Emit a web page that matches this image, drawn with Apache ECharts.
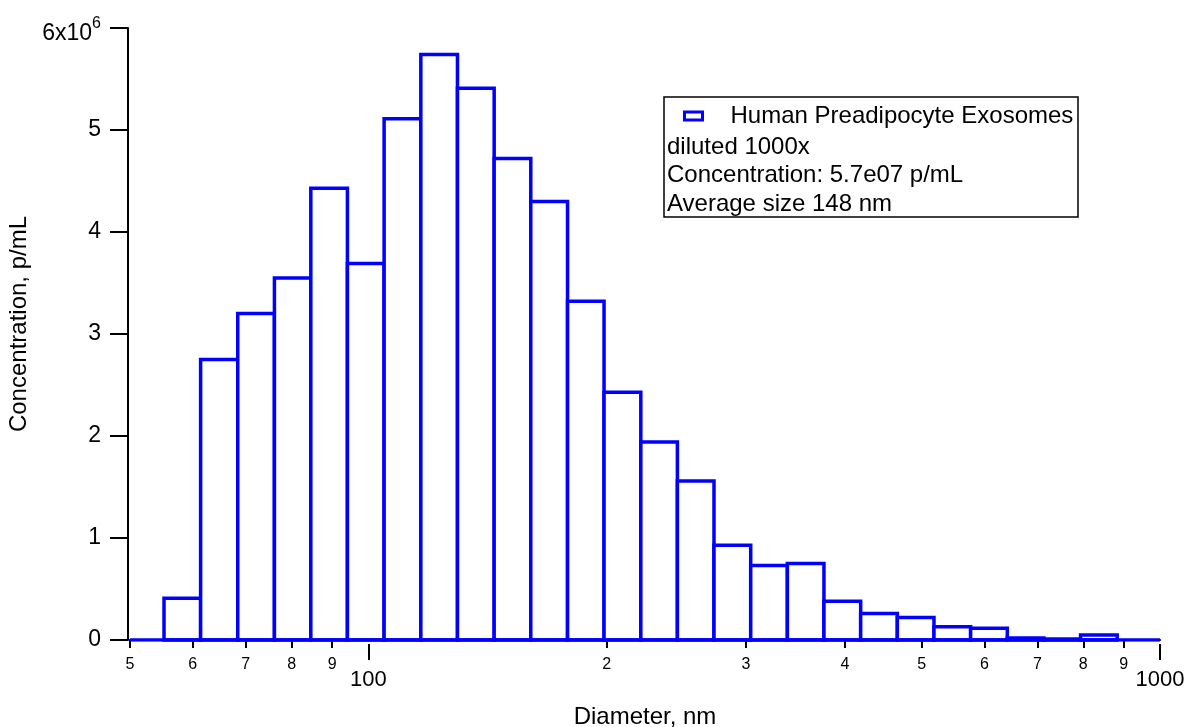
<!DOCTYPE html>
<html>
<head>
<meta charset="utf-8">
<title>Human Preadipocyte Exosomes</title>
<script src="https://cdn.jsdelivr.net/npm/echarts@6/dist/echarts.min.js"></script>
<style>
html, body { margin: 0; padding: 0; background: #fff; }
#chart { width: 1191px; height: 727px; }
</style>
</head>
<body>
<div id="chart"></div>
<script>
// bin edges, nm (log spaced)
const binEdges = [55.2, 61.4, 68.4, 76.1, 84.6, 94.1, 104.7, 116.5, 129.6, 144.2, 160.4, 178.5, 198.5,
  220.9, 245.7, 273.3, 304.1, 338.3, 376.3, 418.7, 465.8, 518.2, 576.5, 641.4, 713.5, 793.7, 883.0]
// concentration per bin, p/mL
const concentration = [410000, 2750000, 3200000, 3550000, 4430000, 3690000, 5110000, 5740000, 5410000,
  4720000, 4300000, 3320000, 2430000, 1940000, 1560000, 930000, 730000, 750000, 380000, 260000,
  220000, 130000, 115000, 20000, 10000, 50000]

const minorTicks = [50, 60, 70, 80, 90, 200, 300, 400, 500, 600, 700, 800, 900]
const minorTickLabels = ['5', '6', '7', '8', '9', '2', '3', '4', '5', '6', '7', '8', '9']
const majorTicks = [100, 1000]
const majorTickLabels = ['100', '1000']

const seriesName = 'Human Preadipocyte Exosomes'
const noteLines = ['diluted 1000x', 'Concentration: 5.7e07 p/mL', 'Average size 148 nm']

const font = '"Liberation Sans", Arial, sans-serif'
const blue = '#0000ff'

function lookupLabel(values, labels, v) {
  const i = values.findIndex(t => Math.abs(t - v) / t < 1e-6)
  return i < 0 ? '' : labels[i]
}

function renderBin(params, api) {
  const topLeft = api.coord([api.value(0), api.value(2)])
  const bottomRight = api.coord([api.value(1), 0])
  return {
    type: 'rect',
    shape: {
      x: topLeft[0],
      y: topLeft[1],
      width: bottomRight[0] - topLeft[0],
      height: bottomRight[1] - topLeft[1],
    },
    style: { fill: '#fff', stroke: blue, lineWidth: 3.5, lineJoin: 'miter' },
  }
}

const chart = echarts.init(document.getElementById('chart'))

const xBase = {
  type: 'log',
  logBase: 10,
  min: 50,
  max: 1000,
  position: 'bottom',
  offset: 4,
  splitLine: { show: false },
  minorTick: { show: false },
}

chart.setOption({
  animation: false,
  textStyle: { fontFamily: font, color: '#000' },
  grid: { left: 130, right: 31, top: 28, bottom: 87, containLabel: false, outerBoundsMode: 'none' },
  legend: {
    left: 683,
    top: 104,
    padding: 0,
    itemWidth: 18,
    itemHeight: 8,
    data: [{
      name: seriesName,
      icon: 'rect',
      itemStyle: { color: '#fff', borderColor: blue, borderWidth: 3 },
    }],
    textStyle: { fontSize: 24, color: '#000', fontFamily: font, padding: [0, 0, 0, 23] },
  },
  xAxis: [
    Object.assign({}, xBase, {
      name: 'Diameter, nm',
      nameLocation: 'middle',
      nameGap: 61,
      nameTextStyle: { fontSize: 24, color: '#000', fontFamily: font },
      axisLine: { show: true, lineStyle: { color: '#000', width: 2 } },
      axisTick: { show: true, length: 8, lineStyle: { color: '#000', width: 2 }, customValues: minorTicks },
      axisLabel: {
        fontSize: 16,
        color: '#000',
        margin: 13,
        customValues: minorTicks,
        formatter: v => lookupLabel(minorTicks, minorTickLabels, v),
      },
    }),
    Object.assign({}, xBase, {
      axisLine: { show: false },
      axisTick: { show: true, length: 16, lineStyle: { color: '#000', width: 2 }, customValues: majorTicks },
      axisLabel: {
        fontSize: 22,
        color: '#000',
        margin: 25,
        customValues: majorTicks,
        formatter: v => lookupLabel(majorTicks, majorTickLabels, v),
      },
    }),
  ],
  yAxis: {
    type: 'value',
    min: 0,
    max: 6000000,
    interval: 1000000,
    offset: 2,
    name: 'Concentration, p/mL',
    nameLocation: 'middle',
    nameGap: 88,
    nameTextStyle: { fontSize: 24, color: '#000', fontFamily: font, padding: [0, 0, 0, 20] },
    axisLine: { show: true, lineStyle: { color: '#000', width: 2 } },
    axisTick: { show: true, length: 18, lineStyle: { color: '#000', width: 2 } },
    splitLine: { show: false },
    axisLabel: {
      fontSize: 23,
      color: '#000',
      margin: 27,
      formatter: v => v === 6000000 ? '{b|6x10}{s|6}' : String(v / 1000000),
      rich: {
        b: { fontSize: 23, fontFamily: font, color: '#000', padding: [12, 0, 0, 0] },
        s: { fontSize: 16, fontFamily: font, color: '#000', padding: [0, 0, 9, 0] },
      },
    },
  },
  series: [
    {
      name: seriesName,
      type: 'custom',
      xAxisIndex: 0,
      renderItem: renderBin,
      encode: { x: [0, 1], y: 2 },
      data: concentration.map((c, i) => [binEdges[i], binEdges[i + 1], c]),
      silent: true,
    },
    {
      name: 'baseline',
      type: 'line',
      xAxisIndex: 0,
      data: [[50, 0], [1000, 0]],
      symbol: 'none',
      lineStyle: { color: blue, width: 3.5 },
      z: 3,
      silent: true,
    },
  ],
  graphic: [
    {
      type: 'rect',
      shape: { x: 664, y: 97, width: 414, height: 120 },
      style: { fill: 'none', stroke: '#000', lineWidth: 1.5 },
      z: 10,
    },
  ].concat(noteLines.map((t, i) => ({
    type: 'text',
    x: 667,
    y: 147 + i * 28.5,
    style: { text: t, fontSize: 24, fontFamily: font, fill: '#000', textVerticalAlign: 'middle' },
    z: 10,
  }))),
})
</script>
</body>
</html>
